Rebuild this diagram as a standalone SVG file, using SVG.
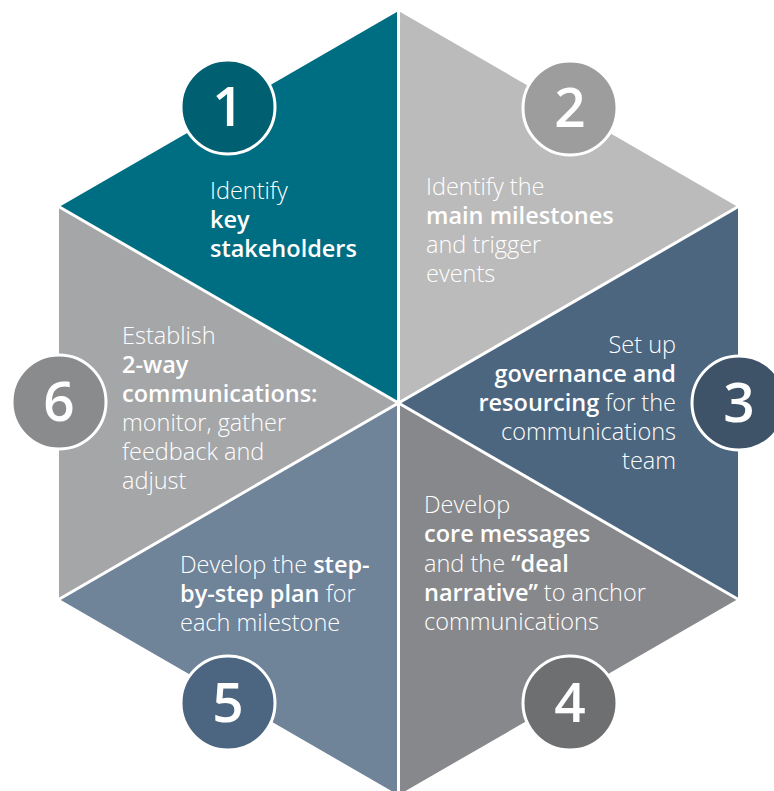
<svg xmlns="http://www.w3.org/2000/svg" width="774" height="791" viewBox="0 0 774 791">
<style>
.lbl{font-family:"Open Sans","Liberation Sans",sans-serif;font-size:23.5px;font-weight:300;fill:#ffffff}
.b{font-weight:600}
.num{font-family:"Open Sans","Liberation Sans",sans-serif;font-size:55px;font-weight:600;fill:#ffffff;text-anchor:middle}
.ring{stroke:#ffffff;stroke-width:3}
.div{stroke:#ffffff;stroke-width:3;fill:none}
</style>
<rect width="774" height="791" fill="#ffffff"/>
<g id="step1">
<polygon points="398.5,403 398.5,11 59,207" fill="#006E82"/>
<circle class="ring" cx="228" cy="107" r="47" fill="#005F70"/>
<text class="num" x="228" y="126">1</text>
<text class="lbl" x="210"><tspan x="210" y="199">Identify</tspan><tspan class="b" x="210" y="228">key</tspan><tspan class="b" x="210" y="257">stakeholders</tspan></text>
</g>
<g id="step2">
<polygon points="398.5,403 398.5,11 738,207" fill="#BBBBBB"/>
<circle class="ring" cx="570" cy="108" r="47" fill="#9D9D9D"/>
<text class="num" x="570" y="127">2</text>
<text class="lbl"><tspan x="426" y="195">Identify the</tspan><tspan class="b" x="426" y="224">main milestones</tspan><tspan x="426" y="253">and trigger</tspan><tspan x="426" y="282">events</tspan></text>
</g>
<g id="step3">
<polygon points="398.5,403 738,207 738,599" fill="#4D6680"/>
<circle class="ring" cx="739" cy="403" r="47" fill="#3E5368"/>
<text class="num" x="739" y="422">3</text>
<text class="lbl" text-anchor="end"><tspan x="676" y="353">Set up</tspan><tspan class="b" x="676" y="382">governance and</tspan><tspan x="676" y="411"><tspan class="b">resourcing</tspan> for the</tspan><tspan x="676" y="440">communications</tspan><tspan x="676" y="469">team</tspan></text>
</g>
<g id="step4">
<polygon points="398.5,403 738,599 398.5,795" fill="#87888B"/>
<circle class="ring" cx="570" cy="703" r="47" fill="#6E6F71"/>
<text class="num" x="570" y="722">4</text>
<text class="lbl"><tspan x="424" y="513">Develop</tspan><tspan class="b" x="424" y="542">core messages</tspan><tspan x="424" y="572">and the <tspan class="b">“deal</tspan></tspan><tspan x="424" y="601"><tspan class="b">narrative”</tspan> to anchor</tspan><tspan x="424" y="630">communications</tspan></text>
</g>
<g id="step5">
<polygon points="398.5,403 398.5,795 59,599" fill="#6F8399"/>
<circle class="ring" cx="228" cy="703" r="47" fill="#4C6580"/>
<text class="num" x="228" y="722">5</text>
<text class="lbl"><tspan x="180" y="573">Develop the <tspan class="b">step-</tspan></tspan><tspan x="180" y="602"><tspan class="b">by-step plan</tspan> for</tspan><tspan x="180" y="631">each milestone</tspan></text>
</g>
<g id="step6">
<polygon points="398.5,403 59,599 59,207" fill="#A5A6A8"/>
<circle class="ring" cx="59" cy="402" r="47" fill="#8A8B8D"/>
<text class="num" x="59" y="421">6</text>
<text class="lbl"><tspan x="122" y="344">Establish</tspan><tspan class="b" x="122" y="373">2-way</tspan><tspan class="b" x="122" y="402">communications:</tspan><tspan x="122" y="431">monitor, gather</tspan><tspan x="122" y="460">feedback and</tspan><tspan x="122" y="489">adjust</tspan></text>
</g>
<g id="dividers">
<line class="div" x1="398.5" y1="403" x2="398.5" y2="8"/>
<line class="div" x1="398.5" y1="403" x2="741" y2="205"/>
<line class="div" x1="398.5" y1="403" x2="741" y2="601"/>
<line class="div" x1="398.5" y1="403" x2="398.5" y2="798"/>
<line class="div" x1="398.5" y1="403" x2="56" y2="601"/>
<line class="div" x1="398.5" y1="403" x2="56" y2="205"/>
</g>
</svg>
